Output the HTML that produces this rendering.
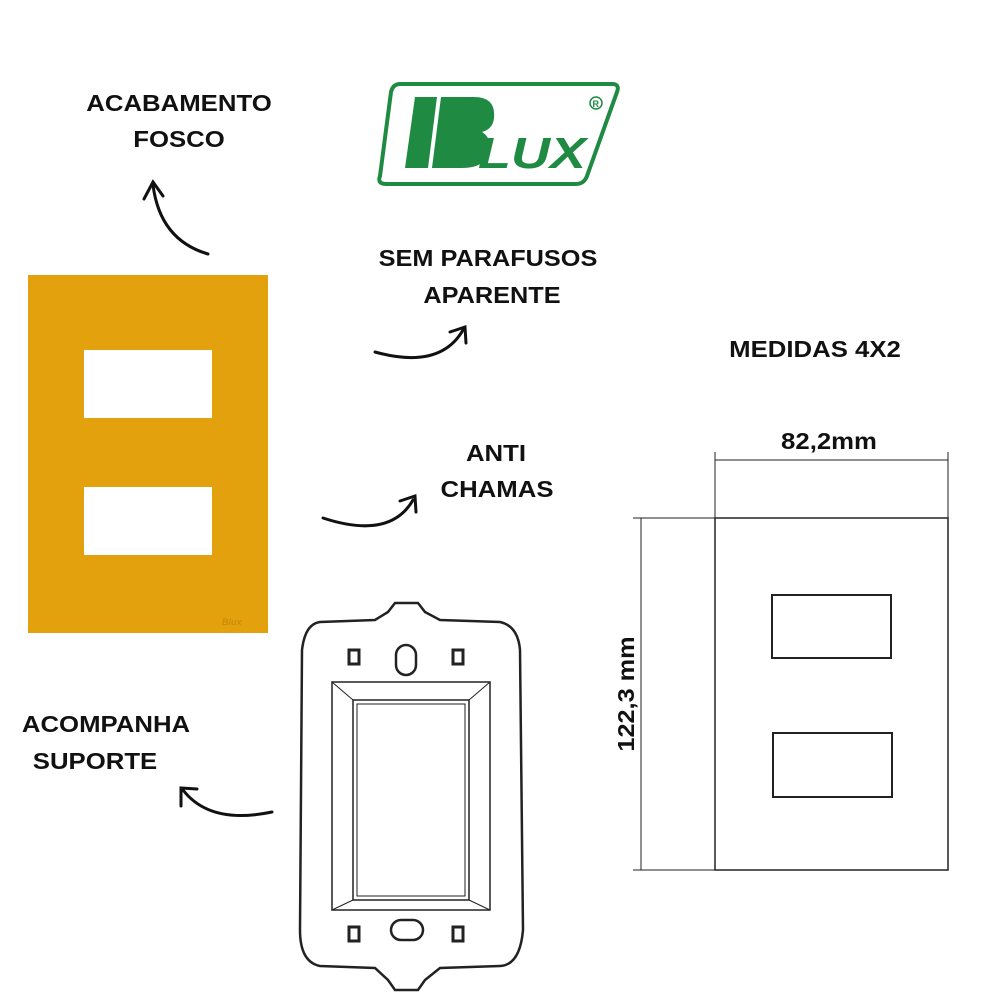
<!DOCTYPE html><html><head><style>body{margin:0;background:#fff}svg{display:block}text{font-family:"Liberation Sans",sans-serif;font-weight:bold;fill:#111}</style></head><body>
<svg width="1000" height="1000" viewBox="0 0 1000 1000" xmlns="http://www.w3.org/2000/svg">
<rect width="1000" height="1000" fill="#fff"/>
<!-- logo -->
<path d="M400 84 L612 84 Q620 84 617 92 L587 176 Q584 184 576 184 L386 184 Q377 184 380 176 L391 92 Q393 84 400 84Z" fill="#fff" stroke="#1e8a42" stroke-width="4"/>
<polygon points="415,97 437,97 428,168 405,168" fill="#1e8a42"/>
<path d="M441 97 L474 97 Q496 97 494 118 Q493 129 482 132 Q492 138 489 152 Q485 168 462 168 L432 168Z" fill="#1e8a42"/>
<text x="478" y="168" font-size="44" font-style="italic" style="fill:#1e8a42" textLength="108" lengthAdjust="spacingAndGlyphs">LUX</text>
<circle cx="596" cy="103" r="6" fill="none" stroke="#1e8a42" stroke-width="1.5"/><text x="592.5" y="107" font-size="9" style="fill:#1e8a42">R</text>
<!-- labels -->
<g font-size="23" text-anchor="middle">
<text transform="translate(179 111) scale(1.12 1)">ACABAMENTO</text>
<text transform="translate(179 147) scale(1.12 1)">FOSCO</text>
<text transform="translate(488 266) scale(1.1 1)">SEM PARAFUSOS</text>
<text transform="translate(492 303) scale(1.1 1)">APARENTE</text>
<text transform="translate(496 461) scale(1.12 1)">ANTI</text>
<text transform="translate(497 497) scale(1.12 1)">CHAMAS</text>
<text transform="translate(106 732) scale(1.12 1)">ACOMPANHA</text>
<text transform="translate(95 769) scale(1.12 1)">SUPORTE</text>
<text transform="translate(815 357) scale(1.12 1)">MEDIDAS 4X2</text>
<text transform="translate(829 449) scale(1.12 1)">82,2mm</text>
<text transform="translate(634 694) rotate(-90) scale(1.1 1)">122,3 mm</text>
</g>
<!-- arrows -->
<g fill="none" stroke="#111" stroke-width="3" stroke-linecap="round">
<path d="M208 254 Q160 240 153 185"/><path d="M144 199 L153 182 L163 196"/>
<path d="M375 352 Q440 370 463 330"/><path d="M450 332 L465 327 L466 343"/>
<path d="M323 518 Q390 540 413 500"/><path d="M400 501 L415 496 L416 512"/>
<path d="M272 812 Q210 825 183 790"/><path d="M181 806 L181 788 L197 789"/>
</g>
<!-- plate -->
<rect x="28" y="275" width="240" height="358" fill="#e3a10e"/>
<rect x="84" y="350" width="128" height="68" fill="#fff"/>
<rect x="84" y="487" width="128" height="68" fill="#fff"/>
<text x="222" y="625" font-size="9" style="fill:#c98d0a" font-style="italic">Blux</text>
<!-- support -->
<g fill="none" stroke="#222">
<path d="M320 622 L375 620 L388 612 L395 603 L418 603 L425 612 L440 620 L500 622 Q518 626 520 650 L523 930 Q520 965 500 966 L440 968 L425 980 L418 990 L395 990 L388 980 L375 968 L320 966 Q300 962 300 930 L302 650 Q305 624 320 622Z" stroke-width="2.5"/>
<rect x="332" y="682" width="158" height="228" stroke-width="1.5"/>
<rect x="353" y="700" width="116" height="200" stroke-width="1.5"/>
<rect x="357" y="704" width="108" height="192" stroke-width="1"/>
<path d="M332 682 L353 700 M490 682 L469 700 M332 910 L353 900 M490 910 L469 900" stroke-width="1"/>
<g stroke-width="3"><rect x="349" y="650" width="10" height="14"/><rect x="453" y="650" width="10" height="14"/><rect x="349" y="927" width="10" height="14"/><rect x="453" y="927" width="10" height="14"/></g>
<rect x="396" y="645" width="20" height="30" rx="10" stroke-width="2.5"/>
<rect x="391" y="920" width="32" height="20" rx="10" stroke-width="2.5"/>
</g>
<!-- dimension drawing -->
<g fill="none" stroke="#222" stroke-width="1.5">
<rect x="715" y="518" width="233" height="352"/>
<rect x="772" y="595" width="119" height="63" stroke-width="2"/>
<rect x="773" y="733" width="119" height="64" stroke-width="2"/>
<path d="M715 460 L948 460 M715 452 L715 518 M948 452 L948 518" stroke-width="1"/>
<path d="M641 518 L641 870 M633 518 L715 518 M633 870 L715 870" stroke-width="1"/>
</g>
</svg></body></html>
